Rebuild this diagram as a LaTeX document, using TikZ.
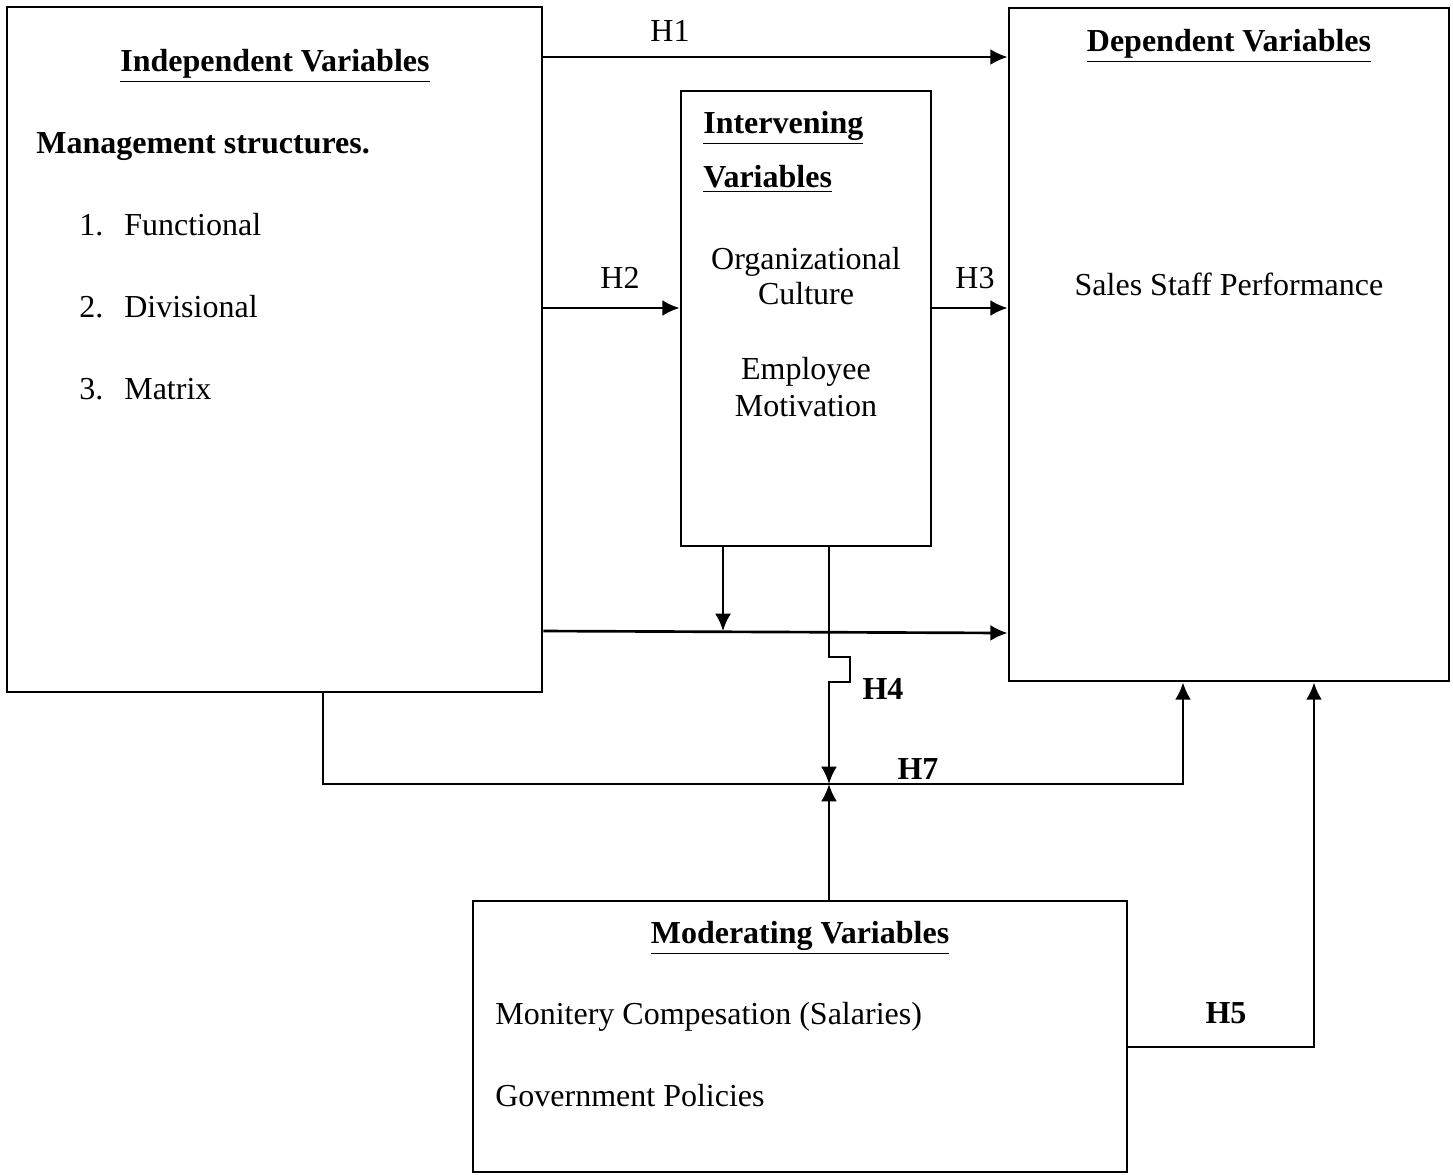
\documentclass[tikz,border=0pt]{standalone}
\usepackage{fontspec}
\setmainfont{Liberation Serif}
\usetikzlibrary{arrows.meta}
\usetikzlibrary{positioning}

\begin{document}
\begin{tikzpicture}[x=0.375pt,y=-0.375pt,line width=1pt,
  box/.style={draw,line width=1pt,minimum width=#1,inner sep=0pt},
  txt/.style={inner sep=0pt,font=\fontsize{12}{14}\selectfont},
  arr/.style={-{Latex[length=6.5pt,width=6pt]}}]
\useasboundingbox (0,0) rectangle (1453,1174);
% boxes
\node[box=200.6pt,minimum height=256.9pt] (indep) at (274.5,349.5) {};
\node[box=93.75pt,minimum height=170.6pt] (inter) at (806,318.5) {};
\node[box=165pt,minimum height=252.4pt] (dep) at (1229,344.5) {};
\node[box=245.25pt,minimum height=101.6pt] (moder) at (800,1036.5) {};
% texts in the boxes
\node[txt,anchor=base] (indeptitle) at (275,71) {\underline{\textbf{Independent Variables}}};
\node[txt,anchor=base west] (mgmt) at (35,153) {\textbf{Management structures.}};
\foreach \i/\t [count=\k] in {235/Functional,317/Divisional,399/Matrix} {
  \node[txt,anchor=base west] (num\k) at (78,\i) {\k.};
  \node[txt,anchor=base west] (item\k) at (123,\i) {\t};
}
\node[txt,anchor=base west] (intertitle1) at (702,133) {\underline{\textbf{Intervening}}};
\node[txt,anchor=base west] (intertitle2) at (702,187) {\underline{\textbf{Variables}}};
\node[txt,anchor=base] (org1) at (806,269) {Organizational};
\node[txt,anchor=base] (org2) at (806,304) {Culture};
\node[txt,anchor=base] (emp1) at (806,379) {Employee};
\node[txt,anchor=base] (emp2) at (806,416) {Motivation};
\node[txt,anchor=base] (deptitle) at (1229,51) {\underline{\textbf{Dependent Variables}}};
\node[txt,anchor=base] (sales) at (1229,295) {Sales Staff Performance};
\node[txt,anchor=base] (modertitle) at (800,943) {\underline{\textbf{Moderating Variables}}};
\node[txt,anchor=base west] (salary) at (494,1024) {Monitery Compesation (Salaries)};
\node[txt,anchor=base west] (policy) at (494,1106) {Government Policies};
% labels
\node[txt,anchor=base] (h1) at (670,41) {H1};
\node[txt,anchor=base] (h2) at (620,288) {H2};
\node[txt,anchor=base] (h3) at (975,288) {H3};
\node[txt,anchor=base] (h4) at (883,699) {\textbf{H4}};
\node[txt,anchor=base] (h7) at (918,779) {\textbf{H7}};
\node[txt,anchor=base] (h5) at (1226,1023) {\textbf{H5}};
% connectors
\draw[arr] (indep.east |- 0,57) -- (dep.west |- 0,57);
\draw[arr] (indep.east |- 0,308) -- (inter.west |- 0,308);
\draw[arr] (inter.east |- 0,308) -- (dep.west |- 0,308);
\draw[arr] (indep.east |- 0,631) -- (dep.west |- 0,633);
\draw[arr] (inter.south -| 723,0) -- (723,631);
\draw[arr] (inter.south -| 829,0) -- (829,657) -- (850,657) -- (850,682) -- (829,682) -- (829,784);
\draw[arr] (indep.south -| 323,0) -- (323,784) -- (1183,784) -- (dep.south -| 1183,0);
\draw[arr] (moder.north -| 829,0) -- (829,784);
\draw[arr] (moder.east |- 0,1047) -- (1314,1047) -- (dep.south -| 1314,0);
\end{tikzpicture}
\end{document}
